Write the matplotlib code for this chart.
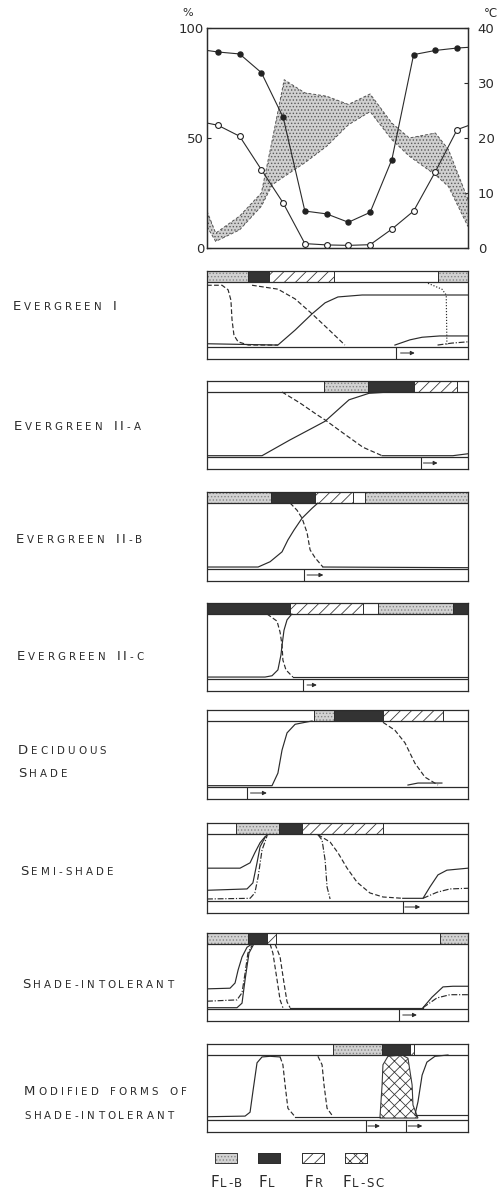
import matplotlib
matplotlib.use('Agg')
import matplotlib.pyplot as plt

W, H = 498, 1192
INK = '#2b2b2b'
plt.rcParams['font.family'] = ['DejaVu Sans']
plt.rcParams['hatch.linewidth'] = 0.6

#----------------------------------------------------------------------
# top chart: monthly %, temperature band (deg C)
#----------------------------------------------------------------------
months      = [0.5, 1.5, 2.5, 3.5, 4.5, 5.5, 6.5, 7.5, 8.5, 9.5, 10.5, 11.5]
closed_pct  = [89.1, 88.2, 79.7, 59.4, 16.8, 15.5, 11.7, 16.2, 40.2, 87.9, 89.8, 90.9]
closed_edge = [89.8, 91.2]
open_pct    = [55.8, 50.8, 35.6, 20.5, 2.0, 1.4, 1.2, 1.5, 8.6, 16.8, 34.7, 53.8]
open_edge   = [56.8, 55.6]
temp_x  = [0, 0.4, 1.5, 2.5, 3.0, 3.55, 4.5, 5.5, 6.5, 7.5, 8.5, 9.3, 10.5, 11.1, 12]
temp_hi = [6.7, 2.7, 5.8, 10.0, 19.6, 30.6, 28.2, 27.6, 26.1, 28.0, 22.7, 20.0, 20.9, 17.9, 8.8]
temp_lo = [3.9, 1.2, 3.3, 7.6, 11.5, 13.0, 15.5, 18.5, 22.4, 24.8, 19.7, 16.7, 13.3, 11.2, 3.9]
pct_ticks  = [0, 50, 100]
temp_ticks = [0, 10, 20, 30, 40]

#----------------------------------------------------------------------
# phenology panels: bar segments (kind, start, end), curves (x, y), arrows
#----------------------------------------------------------------------
eg1_bar = [('B', 0, 1.9), ('L', 1.9, 2.85), ('R', 2.85, 5.85), ('B', 10.6, 12)]
eg1_fall  = [(0, 0.95), (0.69, 0.95), (0.97, 0.88), (1.1, 0.72), (1.15, 0.42), (1.24, 0.18), (1.43, 0.08), (1.9, 0.03), (3.26, 0.03)]
eg1_fall2 = [(2.07, 0.95), (3.26, 0.89), (4.05, 0.74), (4.83, 0.51), (5.56, 0.28), (6.34, 0.03)]
eg1_rise  = [(0, 0.05), (3.26, 0.03), (4.05, 0.26), (4.83, 0.51), (5.43, 0.68), (6.02, 0.77), (7.13, 0.8), (12, 0.8)]
eg1_drop  = [(10.16, 0.98), (10.8, 0.89), (11.0, 0.8), (11.03, 0.03)]
eg1_new   = [(8.64, 0.03), (9.33, 0.11), (9.89, 0.15), (10.7, 0.17), (12, 0.17)]
eg1_new2  = [(10.6, 0.03), (11.26, 0.06), (12, 0.08)]
eg1_arrows = [(8.7, 8.9, 9.55)]

eg2_bar = [('B', 5.4, 7.4), ('L', 7.4, 9.5), ('R', 9.5, 11.5)]
eg2_rise = [(0, 0.02), (2.53, 0.02), (3.8, 0.26), (4.87, 0.45), (5.43, 0.55), (6.53, 0.88), (7.45, 0.98), (8.4, 1.0)]
eg2_fall = [(3.45, 1.0), (4.28, 0.83), (5.06, 0.65), (5.43, 0.57), (6.25, 0.37), (7.17, 0.15), (8.05, 0.02)]
eg2_base = [(8.05, 0.02), (11.3, 0.02), (12, 0.05)]
eg2_arrows = [(9.85, 9.95, 10.6)]

eg3_bar = [('B', 0, 2.95), ('L', 2.95, 4.95), ('R', 4.95, 6.7), ('B', 7.25, 12)]
eg3_rise = [(0, 0.03), (2.35, 0.03), (2.9, 0.11), (3.45, 0.26), (3.72, 0.44), (4.0, 0.59), (4.37, 0.77), (4.83, 0.92), (5.1, 1.0)]
eg3_fall = [(3.82, 1.0), (4.14, 0.89), (4.37, 0.77), (4.6, 0.55), (4.74, 0.29), (4.97, 0.17), (5.33, 0.03)]
eg3_base = [(5.33, 0.03), (12, 0.02)]
eg3_arrows = [(4.45, 4.6, 5.35)]

eg4_bar = [('L', 0, 3.82), ('R', 3.82, 7.15), ('B', 7.85, 11.3), ('L', 11.3, 12)]
eg4_rise = [(0, 0.03), (2.67, 0.03), (2.99, 0.05), (3.26, 0.14), (3.4, 0.37), (3.45, 0.52), (3.54, 0.75), (3.68, 0.91), (3.9, 1.0)]
eg4_fall = [(2.76, 1.0), (3.22, 0.89), (3.36, 0.72), (3.45, 0.52), (3.49, 0.29), (3.63, 0.14), (3.95, 0.03)]
eg4_base = [(3.95, 0.03), (12, 0.03)]
eg4_arrows = [(4.4, 4.6, 5.05)]

dec_bar = [('B', 4.9, 5.85), ('L', 5.85, 8.1), ('R', 8.1, 10.85)]
dec_rise = [(0, 0.02), (2.99, 0.02), (3.26, 0.21), (3.45, 0.56), (3.68, 0.82), (4.05, 0.95), (4.51, 0.98), (4.83, 1.0)]
dec_fall = [(8.09, 0.98), (8.64, 0.86), (9.1, 0.67), (9.56, 0.36), (10.02, 0.15), (10.62, 0.03)]
dec_new  = [(9.24, 0.03), (9.7, 0.06), (10.8, 0.06)]
dec_arrows = [(1.85, 2.0, 2.75)]

semi_bar = [('B', 1.35, 3.3), ('L', 3.3, 4.35), ('R', 4.35, 8.1)]
semi_hi  = [(0, 0.49), (1.52, 0.49), (1.98, 0.57), (2.2, 0.72), (2.44, 0.87), (2.67, 0.96), (2.8, 0.99)]
semi_mid = [(0, 0.16), (1.84, 0.18), (2.11, 0.27), (2.3, 0.57), (2.44, 0.81), (2.67, 0.95)]
semi_lo  = [(0, 0.03), (1.98, 0.04), (2.2, 0.12), (2.35, 0.36), (2.53, 0.76), (2.76, 0.97)]
semi_fall1 = [(5.1, 0.99), (5.29, 0.91), (5.43, 0.61), (5.52, 0.21), (5.66, 0.03)]
semi_fall2 = [(5.1, 0.99), (5.66, 0.88), (6.02, 0.72), (6.44, 0.49), (6.9, 0.28), (7.49, 0.12), (8.09, 0.06), (9.0, 0.04)]
semi_new1 = [(9.0, 0.04), (9.93, 0.04), (10.25, 0.21), (10.62, 0.39), (11.03, 0.46), (12, 0.49)]
semi_new2 = [(9.93, 0.04), (10.57, 0.13), (11.17, 0.18), (12, 0.19)]
semi_arrows = [(9.0, 9.1, 9.8)]

int_bar = [('B', 0, 1.9), ('L', 1.9, 2.75), ('R', 2.75, 3.15), ('B', 10.7, 12)]
int_hi  = [(0, 0.31), (1.06, 0.32), (1.29, 0.4), (1.43, 0.6), (1.61, 0.8), (1.84, 0.95), (2.07, 1.0)]
int_mid = [(0, 0.12), (1.38, 0.14), (1.61, 0.25), (1.75, 0.55), (1.88, 0.86), (2.07, 0.98)]
int_lo  = [(0, 0.02), (1.38, 0.02), (1.61, 0.09), (1.75, 0.45), (1.93, 0.86), (2.12, 0.98)]
int_fall1 = [(2.9, 1.0), (3.03, 0.86), (3.22, 0.45), (3.36, 0.14), (3.49, 0.02)]
int_fall2 = [(3.13, 1.0), (3.36, 0.8), (3.54, 0.4), (3.68, 0.11), (3.82, 0.02)]
int_base  = [(3.82, 0.02), (9.93, 0.02)]
int_new1  = [(9.93, 0.02), (10.34, 0.18), (10.85, 0.34), (11.31, 0.35), (12, 0.35)]
int_new2  = [(9.93, 0.02), (10.57, 0.17), (11.17, 0.22), (12, 0.22)]
int_arrows = [(8.85, 9.0, 9.65)]

mod_bar = [('B', 5.8, 8.05), ('L', 8.05, 9.35), ('R', 9.35, 9.5)]
mod_rise  = [(0, 0.05), (1.75, 0.06), (1.98, 0.12), (2.12, 0.46), (2.3, 0.88), (2.53, 0.97), (2.9, 0.98), (3.36, 0.97)]
mod_fall1 = [(3.36, 0.97), (3.49, 0.85), (3.59, 0.54), (3.72, 0.18), (4.05, 0.05)]
mod_fall2 = [(5.1, 0.98), (5.29, 0.85), (5.38, 0.54), (5.52, 0.18), (5.8, 0.05)]
mod_base  = [(4.05, 0.05), (7.95, 0.05)]
mod_sc    = [(7.95, 0.03), (8.05, 0.54), (8.09, 0.85), (8.32, 0.98), (8.97, 1.0), (9.24, 0.95), (9.43, 0.54), (9.47, 0.23), (9.7, 0.03)]
mod_new   = [(9.56, 0.08), (9.7, 0.28), (9.89, 0.69), (10.11, 0.89), (10.48, 0.98), (11.08, 1.0)]
mod_base2 = [(9.56, 0.08), (12, 0.08)]
mod_arrows = [(7.3, 7.4, 7.95), (9.15, 9.25, 9.9)]

# lower case letters are drawn as small capitals
panel_labels = [["Evergreen I"], ["Evergreen II-a"], ["Evergreen II-b"], ["Evergreen II-c"],
                ["Deciduous", "Shade"], ["Semi-shade"], ["Shade-intolerant"],
                ["Modified forms of", "shade-intolerant"]]
legend_kinds  = ['B', 'L', 'R', 'SC']
legend_labels = ["Fl-b", "Fl", "Fr", "Fl-sc"]

#----------------------------------------------------------------------
# styles / layout
#----------------------------------------------------------------------
SEG = {'B':  dict(facecolor='#d2d2d2', edgecolor='#858585', hatch='.....'),
       'L':  dict(facecolor='#333333', edgecolor='#333333'),
       'R':  dict(facecolor='white', edgecolor='#3a3a3a', hatch='///'),
       'SC': dict(facecolor='white', edgecolor='#3a3a3a', hatch='xxx')}
LS = {'-': '-', '--': (0, (4, 2)), ':': (0, (1, 1.5)), '-.': (0, (5, 1.5, 1, 1.5))}

box_tops = [282, 392, 503, 614, 721, 834, 944, 1055]
box_hts  = [65, 65, 66, 65, 66, 67, 65, 65]
BAR_H, STRIP_H = 11, 12
X0, X1 = 207, 468
label_pos = [(13, [310]), (14, [430]), (16, [543]), (17, [660]), (18, [754, 777]),
             (20, [875]), (22, [988]), (24, [1095, 1119])]

panels = [
    (eg1_bar, [(eg1_rise, '-'), (eg1_fall, '--'), (eg1_fall2, '--'), (eg1_drop, ':'),
               (eg1_new, '-'), (eg1_new2, '-.')], eg1_arrows, None),
    (eg2_bar, [(eg2_rise, '-'), (eg2_fall, '--'), (eg2_base, '-')], eg2_arrows, None),
    (eg3_bar, [(eg3_rise, '-'), (eg3_fall, '--'), (eg3_base, '-')], eg3_arrows, None),
    (eg4_bar, [(eg4_rise, '-'), (eg4_fall, '--'), (eg4_base, '-')], eg4_arrows, None),
    (dec_bar, [(dec_rise, '-'), (dec_fall, '--'), (dec_new, '-')], dec_arrows, None),
    (semi_bar, [(semi_hi, '-'), (semi_mid, '-'), (semi_lo, '-.'), (semi_fall1, '-.'),
                (semi_fall2, '--'), (semi_new1, '-'), (semi_new2, '-.')], semi_arrows, None),
    (int_bar, [(int_hi, '-'), (int_mid, '-.'), (int_lo, '-'), (int_fall1, '--'),
               (int_fall2, '--'), (int_base, '-'), (int_new1, '-'), (int_new2, '-.')], int_arrows, None),
    (mod_bar, [(mod_rise, '-'), (mod_fall1, '--'), (mod_fall2, '--'), (mod_base, '-'),
               (mod_new, '-'), (mod_base2, '-')], mod_arrows, mod_sc),
]


def fig_rect(x0, top, x1, bottom):
    return [x0 / W, 1 - bottom / H, (x1 - x0) / W, (bottom - top) / H]


def smallcaps(fig, r, x, y, s, big=9.5, small=7.4, track=3.0, space=8):
    px = x
    for ch in s:
        if ch == ' ':
            px += space
            continue
        size = big if ch.isupper() else small
        t = fig.text(px / W, 1 - y / H, ch.upper(), fontsize=size, color=INK,
                     ha='left', va='baseline')
        px += t.get_window_extent(renderer=r).width + track


fig = plt.figure(figsize=(W / 100, H / 100), dpi=100, facecolor='white')
r = fig.canvas.get_renderer()

#----------------------------------------------------------------------
# top chart
#----------------------------------------------------------------------
axT = fig.add_axes(fig_rect(X0, 28, X1, 248))
ax0 = axT.twinx()
ax0.yaxis.tick_left()
axT.yaxis.tick_right()
ax0.set_zorder(2)
ax0.patch.set_visible(False)

axT.set_xlim(0, 12)
axT.set_ylim(0, 40)
axT.fill_between(temp_x, temp_lo, temp_hi, facecolor='#d0d0d0', edgecolor='#5a5a5a',
                 hatch='.....', lw=0)
axT.plot(temp_x, temp_hi, color='#555555', lw=0.7, ls=(0, (3, 2)))
axT.plot(temp_x, temp_lo, color='#555555', lw=0.7, ls=(0, (3, 2)))

ax0.set_xlim(0, 12)
ax0.set_ylim(0, 100)
ax0.plot([0] + months + [12], [closed_edge[0]] + closed_pct + [closed_edge[1]],
         color=INK, lw=0.8)
ax0.plot(months, closed_pct, 'o', ms=3.6, color='#222222')
ax0.plot([0] + months + [12], [open_edge[0]] + open_pct + [open_edge[1]],
         color=INK, lw=0.8)
ax0.plot(months, open_pct, 'o', ms=4.2, mfc='white', mec='#222222', mew=0.8)

ax0.set_yticks(pct_ticks)
ax0.set_yticklabels([str(v) for v in pct_ticks])
axT.set_yticks(temp_ticks)
axT.set_yticklabels([str(v) for v in temp_ticks])
axT.set_xticks(range(1, 12))
axT.set_xticklabels([])
ax0.set_xticks([])
for a in (axT, ax0):
    for sp in a.spines.values():
        sp.set_color(INK)
        sp.set_linewidth(0.9)
ax0.tick_params(axis='y', direction='in', length=3, pad=2, labelsize=9.5, colors=INK)
axT.tick_params(axis='y', direction='in', length=3, pad=7, labelsize=9.5, colors=INK)
axT.tick_params(axis='x', direction='in', length=3, colors=INK)
fig.text(182 / W, 1 - 16 / H, '%', fontsize=8, color=INK, ha='left', va='baseline')
fig.text(484 / W, 1 - 17 / H, '°C', fontsize=8.5, color=INK, ha='left', va='baseline')

#----------------------------------------------------------------------
# panels
#----------------------------------------------------------------------
for (bar, curves, arrows, sc), top, hb in zip(panels, box_tops, box_hts):
    bh = BAR_H / hb
    sh = STRIP_H / hb
    ax = fig.add_axes(fig_rect(X0, top - BAR_H, X1, top + hb + STRIP_H))
    ax.set_xlim(0, 12)
    ax.set_ylim(-sh, 1 + bh)
    for kind, a, b in bar:
        ax.barh(1 + bh / 2, b - a, left=a, height=bh, lw=0, **SEG[kind])
        ax.barh(1 + bh / 2, b - a, left=a, height=bh, fill=False, edgecolor=INK, lw=0.7)
    ax.axhline(1, color=INK, lw=0.9)
    ax.axhline(0, color=INK, lw=0.9)
    if sc is not None:
        xs, ys = zip(*sc)
        ax.fill(xs, ys, lw=0.8, **SEG['SC'])
    for pts, style in curves:
        xs, ys = zip(*pts)
        ax.plot(xs, ys, color=INK, lw=0.85, ls=LS[style])
    for div, a, b in arrows:
        ax.vlines(div, -sh, 0, color=INK, lw=0.8)
        ax.annotate('', xy=(b, -sh / 2), xytext=(a, -sh / 2),
                    arrowprops=dict(arrowstyle='-|>', color=INK, lw=0.7,
                                    mutation_scale=6, shrinkA=0, shrinkB=0))
    ax.set_xticks([])
    ax.set_yticks([])
    for sp in ax.spines.values():
        sp.set_color(INK)
        sp.set_linewidth(0.9)

for lines, (lx, ys) in zip(panel_labels, label_pos):
    for s, y in zip(lines, ys):
        smallcaps(fig, r, lx, y, s)

#----------------------------------------------------------------------
# legend
#----------------------------------------------------------------------
leg = fig.add_axes([0, 0, 1, 1])
leg.set_xlim(0, W)
leg.set_ylim(H, 0)
leg.axis('off')
leg.patch.set_visible(False)
sw_x = [215, 258, 302, 345]
lab_x = [210, 258, 305, 342]
for kind, sx in zip(legend_kinds, sw_x):
    leg.bar(sx, 10, width=22, bottom=1153, align='edge', lw=0.6, **SEG[kind])
    leg.bar(sx, 10, width=22, bottom=1153, align='edge', fill=False, edgecolor=INK, lw=0.6)
for s, lx in zip(legend_labels, lab_x):
    smallcaps(fig, r, lx, 1187, s, big=11, small=8.5, track=1.5)

fig.savefig('out.png', dpi=100, facecolor='white')
